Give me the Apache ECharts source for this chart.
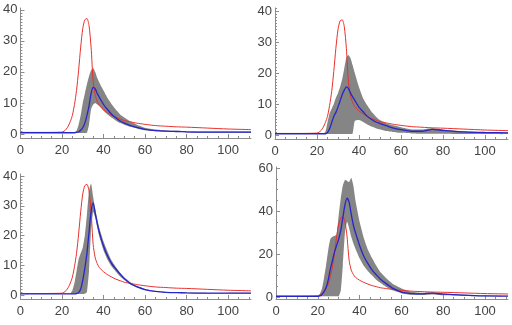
<!DOCTYPE html>
<html>
<head>
<meta charset="UTF-8">
<title>four panels</title>
<script src="https://cdn.jsdelivr.net/npm/echarts@6/dist/echarts.min.js"></script>
<style>
  body { margin: 0; background: #fff; }
  #chart { width: 512px; height: 325px; }
</style>
</head>
<body>
<div id="chart"></div>
<script>
// shared x grid (days)
var xs = [0,10,20,21,22,23,24,25,26,27,28,29,30,31,32,33,34,35,36,37,38,40,42,44,46,48,50,53,56,60,65,70,75,80,90,100,111];

// observed curve, same in every panel
var red = [0.5,0.5,0.6,0.9,1.5,2.5,4,6,9.5,14,20.5,28,34,36.8,37.2,35,28,17,12.5,10.5,9.2,7.8,6.8,6,5.3,4.8,4.3,3.9,3.5,3.1,2.7,2.5,2.3,2.2,1.9,1.6,1.4];

// panel 1
var blue1 = [0.4,0.4,0.4,0.4,0.4,0.4,0.4,0.4,0.4,0.5,0.7,1.2,2,3.5,6,9,13,15,14.5,13,11.8,9.5,7.8,6.3,5.2,4.2,3.5,2.7,2.1,1.5,1.1,0.9,0.8,0.7,0.6,0.6,0.6];
var lo1 = [0.3,0.3,0.3,0.3,0.3,0.3,0.3,0.3,0.3,0.3,0.3,0.3,0.3,0.3,0.4,3,8,9.5,10,9.5,9,7.5,6.3,5.2,4.3,3.5,3,2.3,1.8,1.2,0.9,0.7,0.6,0.5,0.4,0.4,0.4];
var hi1 = [0.5,0.5,0.5,0.5,0.5,0.5,0.5,0.5,0.6,1,3,6,10,13,16,18.5,20.5,21.3,20,18,16.5,14,11.5,9.5,7.8,6.3,5.3,4,3,2,1.4,1.1,1,0.9,0.8,0.8,0.8];

// panel 2
var blue2 = [0.4,0.4,0.4,0.4,0.4,0.4,0.4,0.8,2,4,6,7.3,9,11,13,14.5,15.5,15,13.5,12.3,11.2,9,7.5,6,5,4.2,3.7,3,2.3,1.7,1.2,1.2,1.8,1.5,1,0.8,0.7];
var lo2 = [0.3,0.3,0.3,0.3,0.3,0.3,0.3,0.3,0.3,0.3,0.3,0.3,0.3,0.3,0.3,0.3,0.3,0.3,0.3,0.5,4.5,4.8,4.2,3.4,2.7,2.2,1.8,1.3,1,0.7,0.5,0.4,0.4,0.4,0.3,0.3,0.3];
var hi2 = [0.5,0.5,0.5,0.5,0.5,0.5,1,4,7,8.5,10,12,13.5,15.5,18,21.5,25,25.8,24.8,22.5,20,15.5,11.8,9.5,7.5,6,4.8,3.8,3.2,2.5,1.8,1.8,2.2,1.8,1.2,0.9,0.8];

// panel 3
var blue3 = [0.4,0.4,0.4,0.4,0.4,0.4,0.4,0.4,0.4,0.5,0.8,2,5,9,14,21,28,31,27.5,24,21,16.5,13,10.5,8.7,7,5.5,3.8,2.8,1.8,1.2,0.9,0.8,0.7,0.6,0.6,0.6];
var lo3 = [0.3,0.3,0.3,0.3,0.3,0.3,0.3,0.3,0.3,0.3,0.3,0.3,0.3,0.4,1,8,22,28,26,22.5,19.5,15,11.8,9.5,7.8,6.2,5,3.5,2.5,1.6,1.1,0.8,0.7,0.6,0.5,0.5,0.5];
var hi3 = [0.5,0.5,0.5,0.5,0.5,0.5,0.5,1.5,4,8,12,14,16,20,27,35,37.5,33,29,25.5,22.5,18,14.5,11.5,9.3,7.5,6,4.3,3,2,1.3,1,0.9,0.8,0.7,0.7,0.7];

// panel 4
var blue4 = [0.3,0.3,0.3,0.5,1.2,2.5,4.5,8,13,17,21,24,27,31,37,43,46,44,38.5,33.5,30,24,19,15.5,12.5,10.3,8.3,6,4,2.3,1.6,1.5,1.8,1.3,0.9,0.5,0.4];
var lo4 = [0.3,0.3,0.3,0.3,0.3,0.3,0.3,0.3,0.3,0.3,0.3,0.3,0.3,3,15,30,35,32,28,25,22.5,18,14.5,12,10,8,6.5,4.5,3,1.8,1,0.9,1.2,0.8,0.5,0.3,0.3];
var hi4 = [0.5,0.5,0.5,1.5,4,9,15,22,27,28,28.5,29,38,46,52,54.5,54,53.5,55.5,52,45,35,27.5,22,18,14.5,11.5,8.5,6,4,2.5,2,2.1,1.6,1.1,0.7,0.6];

var xTicks = [0,20,40,60,80,100];
var xMinor = [5,10,15,25,30,35,45,50,55,65,70,75,85,90,95,105,110];
var yTicks40 = [0,10,20,30,40];
var yTicks60 = [0,20,40,60];

function minors(lo, hi, step, majors) {
  var out = [];
  for (var v = Math.ceil(lo / step) * step; v <= hi; v += step) {
    if (majors.indexOf(v) < 0) out.push(v);
  }
  return out;
}

var panels = [
  { grid: {left: 16, top: 8, right: 261, bottom: 187}, y: [-1.3, 40.6], ticks: yTicks40, step: 1, blue: blue1, lo: lo1, hi: hi1 },
  { grid: {left: 275, top: 8, right: 4, bottom: 186}, y: [-1.3, 41], ticks: yTicks40, step: 1, blue: blue2, lo: lo2, hi: hi2 },
  { grid: {left: 16, top: 174, right: 261, bottom: 26}, y: [-1.35, 40.7], ticks: yTicks40, step: 1, blue: blue3, lo: lo3, hi: hi3 },
  { grid: {left: 276, top: 167, right: 4, bottom: 26}, y: [-0.93, 60.5], ticks: yTicks60, step: 5, blue: blue4, lo: lo4, hi: hi4 }
];

function pts(ys) {
  return xs.map(function (x, i) { return [x, ys[i]]; });
}

// band between lo and hi drawn as one polygon through the axes
function bandSeries(lo, hi, xi, yi) {
  return {
    type: 'custom', xAxisIndex: xi, yAxisIndex: yi, silent: true,
    data: [0],
    renderItem: function (params, api) {
      var p = [];
      for (var i = 0; i < xs.length; i++) p.push(api.coord([xs[i], hi[i]]));
      for (var j = xs.length - 1; j >= 0; j--) p.push(api.coord([xs[j], lo[j]]));
      return { type: 'polygon', shape: { points: p, smooth: 0.15 }, style: { fill: '#858585', stroke: null } };
    }
  };
}

var axisCol = '#8c8c8c';
var lab = { color: '#444', fontSize: 13, fontFamily: 'Liberation Sans, Arial, sans-serif' };

var option = { animation: false, grid: [], xAxis: [], yAxis: [], series: [] };

panels.forEach(function (p, k) {
  option.grid.push(p.grid);
  var xi = option.xAxis.length, yi = option.yAxis.length;
  // main axes
  option.xAxis.push({
    type: 'value', gridIndex: k, min: 0, max: 111, position: 'bottom',
    axisLine: { show: true, onZero: false, lineStyle: { color: axisCol, width: 1 } },
    axisTick: { show: true, inside: true, length: 4, customValues: xTicks, lineStyle: { color: axisCol } },
    axisLabel: Object.assign({ customValues: xTicks, margin: 6 }, lab),
    splitLine: { show: false }
  });
  option.xAxis.push({
    type: 'value', gridIndex: k, min: 0, max: 111, position: 'bottom',
    axisLine: { show: false, onZero: false },
    axisTick: { show: true, inside: true, length: 2, customValues: xMinor, lineStyle: { color: axisCol } },
    axisLabel: { show: false }, splitLine: { show: false }
  });
  option.yAxis.push({
    type: 'value', gridIndex: k, min: p.y[0], max: p.y[1], position: 'left',
    axisLine: { show: true, onZero: false, lineStyle: { color: axisCol, width: 1 } },
    axisTick: { show: true, inside: true, length: 4, customValues: p.ticks, lineStyle: { color: axisCol } },
    axisLabel: Object.assign({ customValues: p.ticks, margin: 3 }, lab),
    splitLine: { show: false }
  });
  option.yAxis.push({
    type: 'value', gridIndex: k, min: p.y[0], max: p.y[1], position: 'left',
    axisLine: { show: false, onZero: false },
    axisTick: { show: true, inside: true, length: 2, customValues: minors(0, p.y[1], p.step, p.ticks), lineStyle: { color: axisCol } },
    axisLabel: { show: false }, splitLine: { show: false }
  });

  option.series.push(bandSeries(p.lo, p.hi, xi, yi));
  option.series.push({
    type: 'line', xAxisIndex: xi, yAxisIndex: yi, data: pts(red),
    showSymbol: false, symbol: 'none', smooth: 0.25, lineStyle: { color: '#e8312c', width: 1 }
  });
  option.series.push({
    type: 'line', xAxisIndex: xi, yAxisIndex: yi, data: pts(p.blue),
    showSymbol: false, symbol: 'none', smooth: 0.25, lineStyle: { color: '#2626c8', width: 1.3 }
  });
});

var chart = echarts.init(document.getElementById('chart'));
chart.setOption(option);
</script>
</body>
</html>
